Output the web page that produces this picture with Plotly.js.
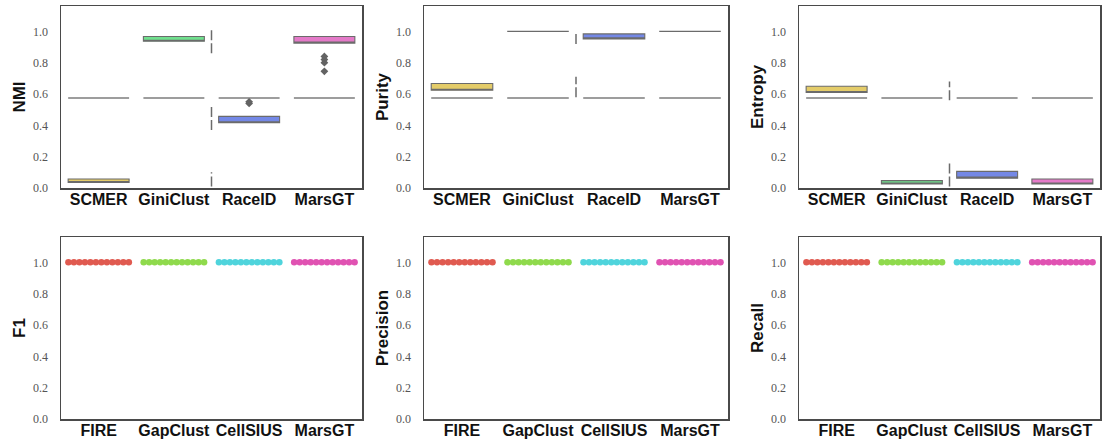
<!DOCTYPE html>
<html>
<head>
<meta charset="utf-8">
<script src="https://cdn.plot.ly/plotly-3.0.1.min.js"></script>
<style>html,body{margin:0;padding:0;background:#fff}#chart{width:1107px;height:446px}</style>
</head>
<body>
<div id="chart"></div>
<script>
// ---------- data ----------
const topCats = ['SCMER', 'GiniClust', 'RaceID', 'MarsGT'];
const botCats = ['FIRE', 'GapClust', 'CellSIUS', 'MarsGT'];
const topColors = ['#e4cc69', '#70e08e', '#7488e6', '#e47ac8'];
const botColors = ['#e05a50', '#8fda4c', '#4fd4dc', '#e052b2'];

// box quartiles (top row)
const nmiQ1 = [0.035, 0.937, 0.417, 0.925];
const nmiMed = [0.035, 0.937, 0.417, 0.925];
const nmiQ3 = [0.057, 0.967, 0.457, 0.967];
const nmiBase = [0.575, 0.575, 0.575, 0.575];
const nmiOutCat = ['RaceID', 'RaceID', 'MarsGT', 'MarsGT', 'MarsGT', 'MarsGT'];
const nmiOutVal = [0.54, 0.55, 0.745, 0.80, 0.82, 0.84];
const nmiDivLow = [0.01, 0.37, 0.86];
const nmiDivHigh = [0.10, 0.52, 1.01];

const purQ1 = [0.624, 1.0, 0.952, 1.0];
const purMed = [0.624, 1.0, 0.952, 1.0];
const purQ3 = [0.667, 1.0, 0.984, 1.0];
const purBase = [0.575, 0.575, 0.575, 0.575];
const purDivLow = [0.58, 0.92];
const purDivHigh = [0.71, 1.0];

const entQ1 = [0.61, 0.026, 0.063, 0.026];
const entMed = [0.61, 0.026, 0.063, 0.026];
const entQ3 = [0.65, 0.047, 0.106, 0.057];
const entBase = [0.575, 0.575, 0.575, 0.575];
const entDivLow = [0.01, 0.56];
const entDivHigh = [0.16, 0.68];

// per-run scores (bottom row), 12 runs per method
const f1 = {
  FIRE: [1, 1, 1, 1, 1, 1, 1, 1, 1, 1, 1, 1],
  GapClust: [1, 1, 1, 1, 1, 1, 1, 1, 1, 1, 1, 1],
  CellSIUS: [1, 1, 1, 1, 1, 1, 1, 1, 1, 1, 1, 1],
  MarsGT: [1, 1, 1, 1, 1, 1, 1, 1, 1, 1, 1, 1]
};
const precision = {
  FIRE: [1, 1, 1, 1, 1, 1, 1, 1, 1, 1, 1, 1],
  GapClust: [1, 1, 1, 1, 1, 1, 1, 1, 1, 1, 1, 1],
  CellSIUS: [1, 1, 1, 1, 1, 1, 1, 1, 1, 1, 1, 1],
  MarsGT: [1, 1, 1, 1, 1, 1, 1, 1, 1, 1, 1, 1]
};
const recall = {
  FIRE: [1, 1, 1, 1, 1, 1, 1, 1, 1, 1, 1, 1],
  GapClust: [1, 1, 1, 1, 1, 1, 1, 1, 1, 1, 1, 1],
  CellSIUS: [1, 1, 1, 1, 1, 1, 1, 1, 1, 1, 1, 1],
  MarsGT: [1, 1, 1, 1, 1, 1, 1, 1, 1, 1, 1, 1]
};
const tickVals = [0, 0.2, 0.4, 0.6, 0.8, 1.0];

// ---------- build ----------
const EDGE = '#6b6b6b';
const BOXW = 0.81;
const traces = [];

function boxPanel(ax, q1, med, q3, base, colors, divLow, divHigh, outCat, outVal) {
  const xa = 'x' + ax, ya = 'y' + ax;
  // reference line boxes
  topCats.forEach((c, i) => {
    traces.push({type: 'box', xaxis: xa, yaxis: ya, x: [i], q1: [base[i]], median: [base[i]], q3: [base[i]],
      lowerfence: [base[i]], upperfence: [base[i]], width: BOXW, fillcolor: EDGE,
      line: {color: '#7d7d7d', width: 1.5}, boxpoints: false, hoverinfo: 'skip', showlegend: false});
  });
  topCats.forEach((c, i) => {
    traces.push({type: 'box', xaxis: xa, yaxis: ya, x: [i], q1: [q1[i]], median: [med[i]], q3: [q3[i]],
      lowerfence: [q1[i]], upperfence: [q3[i]], width: BOXW, fillcolor: colors[i],
      line: {color: EDGE, width: 1.1}, boxpoints: false, showlegend: false, name: c});
  });
  // divider segments between 2nd and 3rd category
  const dx = [], dy = [];
  divLow.forEach((lo, k) => { dx.push(1.5, 1.5, null); dy.push(lo, divHigh[k], null); });
  traces.push({type: 'scatter', mode: 'lines', xaxis: xa, yaxis: ya, x: dx, y: dy,
    line: {color: EDGE, width: 1.5, dash: '10px,3px'}, hoverinfo: 'skip', showlegend: false});
  if (outCat) {
    traces.push({type: 'scatter', mode: 'markers', xaxis: xa, yaxis: ya,
      x: outCat.map(c => topCats.indexOf(c)), y: outVal,
      marker: {symbol: 'diamond', size: 6, color: '#636363'}, showlegend: false});
  }
}

function swarmPanel(ax, data) {
  const xa = 'x' + ax, ya = 'y' + ax;
  const spacing = 0.073;
  botCats.forEach((c, i) => {
    const vals = data[c];
    const n = vals.length;
    traces.push({type: 'scatter', mode: 'markers', xaxis: xa, yaxis: ya,
      x: vals.map((v, k) => i + (k - (n - 1) / 2) * spacing), y: vals,
      marker: {size: 6.5, color: botColors[i]}, showlegend: false, name: c});
  });
}

boxPanel('', nmiQ1, nmiMed, nmiQ3, nmiBase, topColors, nmiDivLow, nmiDivHigh, nmiOutCat, nmiOutVal);
boxPanel('2', purQ1, purMed, purQ3, purBase, topColors, purDivLow, purDivHigh);
boxPanel('3', entQ1, entMed, entQ3, entBase, topColors, entDivLow, entDivHigh);
swarmPanel('4', f1);
swarmPanel('5', precision);
swarmPanel('6', recall);

const W = 1107, H = 446;
const cols = [[61, 362], [424, 728], [799, 1100]];
const rows = [[6, 188], [237, 419]];
const titles = ['NMI', 'Purity', 'Entropy', 'F1', 'Precision', 'Recall'];

const layout = {
  width: W, height: H, margin: {l: 0, r: 0, t: 0, b: 0},
  paper_bgcolor: '#fff', plot_bgcolor: '#fff', showlegend: false, boxmode: 'overlay'
};
for (let p = 0; p < 6; p++) {
  const r = Math.floor(p / 3), c = p % 3;
  const sfx = p === 0 ? '' : String(p + 1);
  const cats = r === 0 ? topCats : botCats;
  layout['xaxis' + sfx] = {
    domain: [cols[c][0] / W, cols[c][1] / W], anchor: 'y' + sfx,
    range: [-0.5, 3.5], tickvals: [0, 1, 2, 3], ticktext: cats,
    showgrid: false, zeroline: false, showline: true, mirror: true,
    linecolor: '#4a4a4a', linewidth: 1.5, ticks: '', ticklabelstandoff: -4,
    tickfont: {family: 'Liberation Sans, Arial, sans-serif', size: 16, color: '#111', weight: 'bold'},
    fixedrange: true, automargin: false
  };
  layout['yaxis' + sfx] = {
    domain: [1 - rows[r][1] / H, 1 - rows[r][0] / H], anchor: 'x' + sfx,
    range: [0, 1.162], tickvals: tickVals, tickformat: '.1f',
    showgrid: false, zeroline: false, showline: true, mirror: true,
    linecolor: '#4a4a4a', linewidth: 1.5, ticks: '', ticklabelstandoff: 9,
    tickfont: {family: 'Liberation Serif, Times New Roman, serif', size: 12, color: '#555'},
    title: {text: '<b>' + titles[p] + '</b>', standoff: 3,
      font: {family: 'Liberation Sans, Arial, sans-serif', size: 17, color: '#111'}},
    fixedrange: true, automargin: false
  };
}

Plotly.newPlot('chart', traces, layout, {displayModeBar: false, staticPlot: true});
</script>
</body>
</html>
